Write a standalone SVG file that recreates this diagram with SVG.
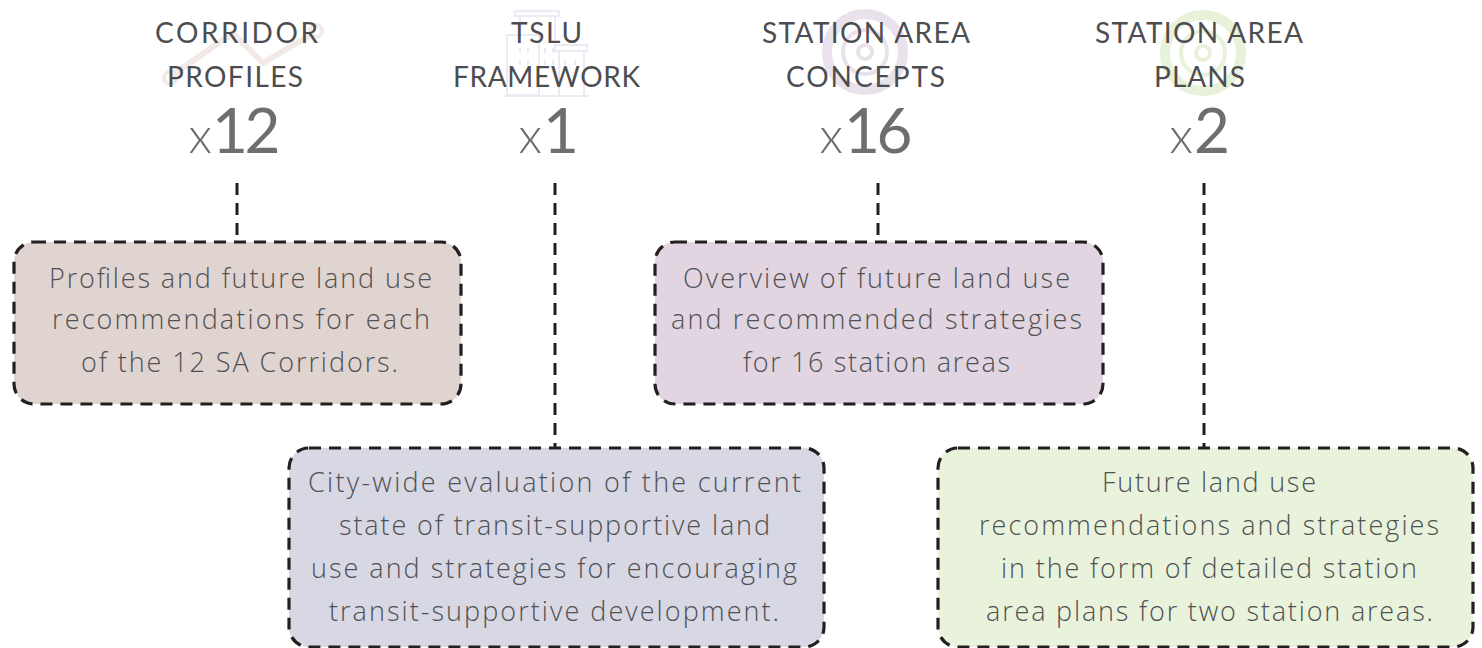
<svg xmlns="http://www.w3.org/2000/svg" width="1482" height="648" viewBox="0 0 1482 648">
<style>
text{font-family:"Lato","Open Sans",sans-serif;text-anchor:middle}
.h{font-size:28px;fill:#4d4d4f;font-weight:400}
.x{font-size:50px;fill:#6d6e70;font-weight:300;text-anchor:start}
.n{font-size:62px;fill:#6d6e70;font-weight:400;text-anchor:start;letter-spacing:-3.5px}
.b{font-family:"Open Sans","Lato",sans-serif;font-size:27px;fill:#505153;font-weight:300}
.box{stroke:#231f20;stroke-width:3.2;stroke-dasharray:12 8;stroke-linecap:butt}
.c{fill:none;stroke:#231f20;stroke-width:3;stroke-dasharray:12 8}
</style>
<rect width="1482" height="648" fill="#fff"/>
<g id="icons">
<path d="M171 76 L233 33 L263 63 L314 33" fill="none" stroke="#f3eae7" stroke-width="6" stroke-linejoin="round"/>
<circle cx="170" cy="78" r="6" fill="none" stroke="#f3eae7" stroke-width="4"/>
<circle cx="316" cy="31" r="6" fill="none" stroke="#f3eae7" stroke-width="4"/>
<g fill="none" stroke="#ecebf3" stroke-width="2">
<rect x="515" y="11" width="44" height="5"/><path d="M520 16V35M555 16V40"/><rect x="507" y="35" width="32" height="60"/><rect x="555" y="45" width="32" height="6"/><path d="M559 51V95M584 51V95M504 96H589"/>
<path d="M520 48v5M528 48v5M520 60v5M528 60v5M545 48v5M553 48v5M545 60v5M553 60v5M565 60v5M575 60v5"/>
</g>
<g fill="none" stroke="#e9e2ec"><circle cx="865" cy="52" r="38" stroke-width="10"/><circle cx="865" cy="52" r="22" stroke-width="4"/><circle cx="865" cy="52" r="7" stroke-width="4"/></g>
<g fill="none" stroke="#e8f1d9"><circle cx="1203" cy="53" r="38" stroke-width="10"/><circle cx="1203" cy="53" r="22" stroke-width="4"/><circle cx="1203" cy="53" r="7" stroke-width="4"/></g>
</g>
<g id="connectors">
<path class="c" d="M237 183V242"/><path class="c" d="M555 183V448"/><path class="c" d="M878 183V242"/><path class="c" d="M1204 183V448"/>
</g>
<g id="header-corridor"><text class="h" x="236.500" y="43" textLength="163">CORRIDOR</text><text class="h" x="235" y="87" textLength="136">PROFILES</text><text class="x" x="188.500" y="153">x</text><text class="n" x="212" y="153">12</text></g>
<g id="header-tslu"><text class="h" x="546.500" y="43" textLength="71">TSLU</text><text class="h" x="546.500" y="87" textLength="187">FRAMEWORK</text><text class="x" x="518.500" y="153">x</text><text class="n" x="543" y="153">1</text></g>
<g id="header-concepts"><text class="h" x="866" y="43" textLength="208">STATION AREA</text><text class="h" x="865.500" y="87" textLength="159">CONCEPTS</text><text class="x" x="819.500" y="153">x</text><text class="n" x="844" y="153">16</text></g>
<g id="header-plans"><text class="h" x="1199" y="43" textLength="208">STATION AREA</text><text class="h" x="1199.500" y="87" textLength="91">PLANS</text><text class="x" x="1169.500" y="153">x</text><text class="n" x="1194" y="153">2</text></g>
<g id="box-corridors"><rect class="box" x="14" y="242" width="447" height="162" rx="20" fill="#e0d4d1"/>
<text class="b" x="240.500" y="288" textLength="383">Profiles and future land use</text><text class="b" x="241" y="329" textLength="378">recommendations for each</text><text class="b" x="239.500" y="372" textLength="317">of the 12 SA Corridors.</text></g>
<g id="box-concepts"><rect class="box" x="655" y="242" width="448" height="162" rx="20" fill="#e0d5e1"/>
<text class="b" x="876.500" y="288" textLength="387">Overview of future land use</text><text class="b" x="876.500" y="329" textLength="411">and recommended strategies</text><text class="b" x="876.500" y="372" textLength="267">for 16 station areas</text></g>
<g id="box-tslu"><rect class="box" x="289" y="448" width="535" height="199" rx="20" fill="#d8d7e4"/>
<text class="b" x="554.500" y="492" textLength="493">City-wide evaluation of the current</text><text class="b" x="554.500" y="535" textLength="431">state of transit-supportive land</text><text class="b" x="554" y="578" textLength="486">use and strategies for encouraging</text><text class="b" x="554" y="621" textLength="450">transit-supportive development.</text></g>
<g id="box-plans"><rect class="box" x="938" y="448" width="535" height="199" rx="20" fill="#e9f3dc"/>
<text class="b" x="1209" y="492" textLength="214">Future land use</text><text class="b" x="1209" y="535" textLength="460">recommendations and strategies</text><text class="b" x="1209" y="578" textLength="416">in the form of detailed station</text><text class="b" x="1209.500" y="621" textLength="447">area plans for two station areas.</text></g>
</svg>
